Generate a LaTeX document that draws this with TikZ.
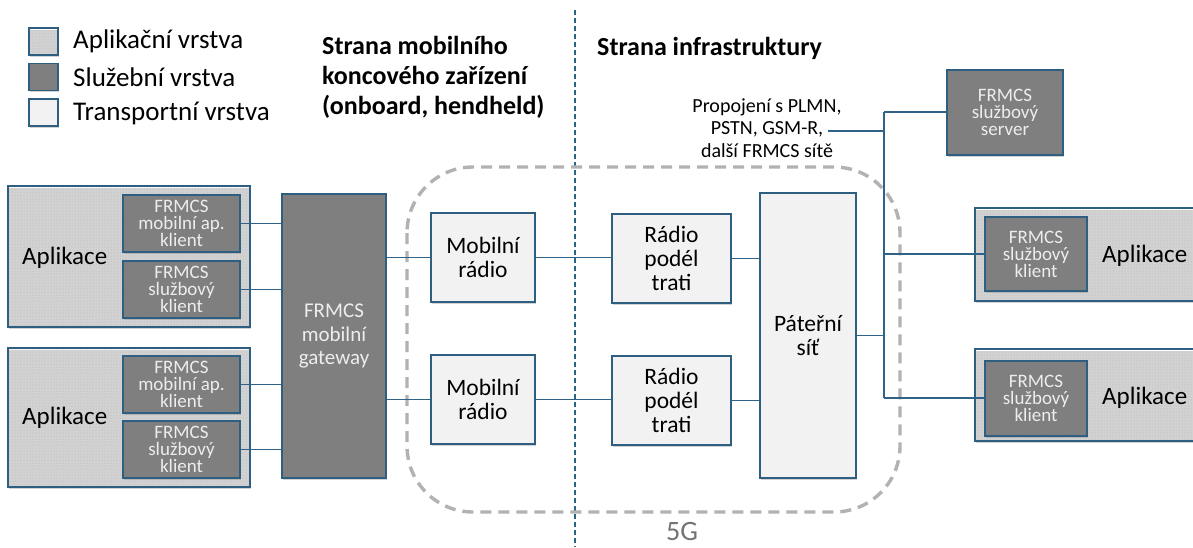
\documentclass[tikz,border=0pt]{standalone}
\usepackage{fontspec}
\setmainfont{Carlito}
\usetikzlibrary{patterns.meta,shadows}
\definecolor{bord}{HTML}{2E5E80}
\definecolor{lnk}{HTML}{2E6286}
\definecolor{svcfill}{HTML}{7F7F7F}
\definecolor{trfill}{HTML}{F2F2F2}
\tikzset{
  base/.style={draw=bord, line width=1.3pt, align=center, inner sep=1pt, drop shadow={shadow xshift=1pt, shadow yshift=-1.5pt, opacity=0.35}},
  svc/.style={base, fill=svcfill, text=white!93!black, font=\fontsize{19}{17}\selectfont},
  trn/.style={base, fill=trfill, font=\fontsize{23.5}{24}\selectfont},
  appbox/.style={draw=bord, line width=1.3pt, preaction={fill=white}, pattern={Dots[distance=3pt, radius=0.5pt]}, pattern color=gray!60, drop shadow={shadow xshift=1pt, shadow yshift=-1.5pt, opacity=0.35}},
  lnkline/.style={draw=lnk, line width=1.2pt},
  lbl/.style={font=\fontsize{25}{28}\selectfont, inner sep=0pt},
  leg/.style={font=\fontsize{27}{30}\selectfont, inner sep=0pt},
}
\begin{document}
\begin{tikzpicture}[x=1pt,y=-1pt]
\useasboundingbox (0,0) rectangle (1193,547);
\clip (0,0) rectangle (1193,547);
\fill[white] (0,0) rectangle (1193,547);

% legend
\node[appbox, minimum width=29pt, minimum height=27pt, inner sep=0pt] (lg1) at (43.5,41.5) {};
\node[base, fill=svcfill, minimum width=29pt, minimum height=27pt, inner sep=0pt] (lg2) at (43.5,77) {};
\node[base, fill=trfill, minimum width=29pt, minimum height=27pt, inner sep=0pt] (lg3) at (43.5,112.5) {};
\node[leg, anchor=west] (lt1) at (73,41) {Aplikační vrstva};
\node[leg, anchor=west] (lt2) at (73,77) {Služební vrstva};
\node[leg, anchor=west] (lt3) at (73,113) {Transportní vrstva};

% headers
\node[anchor=north west, align=left, inner sep=0pt, font=\bfseries\fontsize{26}{30}\selectfont] (h1) at (322,36) {Strana mobilního\\koncového zařízení\\(onboard, hendheld)};
\node[anchor=west, inner sep=0pt, font=\bfseries\fontsize{26}{30}\selectfont] (h2) at (597,48) {Strana infrastruktury};

% divider
\draw[lnk, line width=1.2pt, dash pattern=on 5pt off 3pt] (575,10) coordinate (dtop) -- (575,547) coordinate (dbot);

% 5G cloud
\draw[gray!60, line width=3.4pt, dash pattern=on 11pt off 7pt, rounded corners=66pt] (407,167) rectangle (900,512);
\node[font=\fontsize{28}{28}\selectfont, text=gray!90!black, inner sep=0pt] (g5) at (682,531) {5G};

% left application boxes
\node[appbox, minimum width=242pt, minimum height=141pt, inner sep=0pt] (a1) at (129,256.5) {};
\node[appbox, minimum width=242pt, minimum height=139pt, inner sep=0pt] (a2) at (129,417.5) {};
\node[lbl, anchor=west] (a1t) at (22,258) {Aplikace};
\node[lbl, anchor=west] (a2t) at (22,418) {Aplikace};
\node[svc, minimum width=117pt, minimum height=57pt] (c1) at (181.5,223.5) {FRMCS\\mobilní ap.\\klient};
\node[svc, minimum width=117pt, minimum height=57pt] (c2) at (181.5,289.5) {FRMCS\\službový\\klient};
\node[svc, minimum width=117pt, minimum height=57pt] (c3) at (181.5,384.5) {FRMCS\\mobilní ap.\\klient};
\node[svc, minimum width=117pt, minimum height=57pt] (c4) at (181.5,449.5) {FRMCS\\službový\\klient};

% gateway
\node[svc, font=\fontsize{21}{23.5}\selectfont, minimum width=104pt, minimum height=284pt] (gw) at (334,336) {FRMCS\\mobilní\\gateway};

% radios
\node[trn, minimum width=104pt, minimum height=89pt] (mr1) at (483,257.5) {Mobilní\\rádio};
\node[trn, minimum width=104pt, minimum height=89pt] (mr2) at (483,399.5) {Mobilní\\rádio};
\node[trn, minimum width=119pt, minimum height=89pt] (rt1) at (671.5,258.5) {Rádio\\podél\\trati};
\node[trn, minimum width=119pt, minimum height=89pt] (rt2) at (671.5,400.5) {Rádio\\podél\\trati};
\node[trn, minimum width=96pt, minimum height=285pt] (pat) at (808,335.5) {Páteřní\\síť};

% server
\node[svc, minimum width=116pt, minimum height=85pt] (srv) at (1005,112.5) {FRMCS\\službový\\server};

% right application boxes
\node[appbox, minimum width=225pt, minimum height=93pt, inner sep=0pt] (a3) at (1087.5,254.5) {};
\node[appbox, minimum width=225pt, minimum height=92pt, inner sep=0pt] (a4) at (1087.5,395) {};
\node[svc, minimum width=102pt, minimum height=74pt] (c5) at (1036,254) {FRMCS\\službový\\klient};
\node[svc, minimum width=102pt, minimum height=75pt] (c6) at (1036,398.5) {FRMCS\\službový\\klient};
\node[lbl, anchor=west] (a3t) at (1102,256) {Aplikace};
\node[lbl, anchor=west] (a4t) at (1102,398) {Aplikace};

% interconnection label
\node[align=center, inner sep=0pt, font=\fontsize{20}{22.5}\selectfont] (pl) at (767,128) {Propojení s PLMN,\\PSTN, GSM-R,\\další FRMCS sítě};
\coordinate (plend) at (828,131);

% bus
\coordinate (btop) at (884,112);
\coordinate (bbot) at (884,398);

% connectors
\draw[lnkline] (c1.east) -- (c1.east -| gw.west);
\draw[lnkline] (c2.east) -- (c2.east -| gw.west);
\draw[lnkline] (c3.east) -- (c3.east -| gw.west);
\draw[lnkline] (c4.east) -- (c4.east -| gw.west);
\draw[lnkline] (mr1.west -| gw.east) -- (mr1.west);
\draw[lnkline] (mr2.west -| gw.east) -- (mr2.west);
\draw[lnkline] (mr1.east) -- (mr1.east -| rt1.west);
\draw[lnkline] (mr2.east) -- (mr2.east -| rt2.west);
\draw[lnkline] (rt1.east) -- (rt1.east -| pat.west);
\draw[lnkline] (rt2.east) -- (rt2.east -| pat.west);
\draw[lnkline] (btop) -- (bbot);
\draw[lnkline] (btop) -- (btop -| srv.west);
\draw[lnkline] (plend) -- (plend -| btop);
\draw[lnkline] (pat.east) -- (pat.east -| btop);
\draw[lnkline] (c5.west -| btop) -- (c5.west);
\draw[lnkline] (bbot) -- (c6.west |- bbot);
\end{tikzpicture}
\end{document}
